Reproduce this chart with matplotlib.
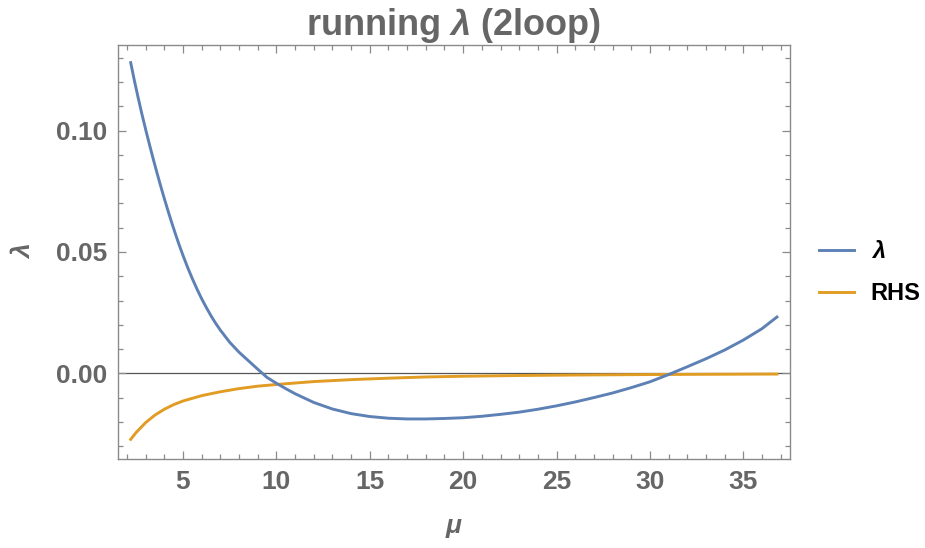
import matplotlib
matplotlib.use("Agg")
import matplotlib.pyplot as plt
from matplotlib.ticker import MultipleLocator

# Running quartic coupling lambda(mu) at two loops
mu_lam = [2.2, 2.4, 2.6, 2.8, 3.0, 3.2, 3.4, 3.6, 3.8, 4.0, 4.2, 4.4, 4.6, 4.8,
          5.0, 5.25, 5.5, 5.75, 6.0, 6.25, 6.5, 6.75, 7.0, 7.5, 8.0, 8.5, 9.0,
          9.5, 10.0, 10.5, 11.0, 12.0, 13.0, 14.0, 15.0, 16.0, 17.0, 18.0, 19.0,
          20.0, 21.0, 22.0, 23.0, 24.0, 25.0, 26.0, 27.0, 28.0, 29.0, 30.0,
          31.0, 32.0, 33.0, 34.0, 35.0, 36.0, 36.8]
lam = [0.1280, 0.1205, 0.1135, 0.1068, 0.1005, 0.0944, 0.0885, 0.0828, 0.0773,
       0.0720, 0.0669, 0.0620, 0.0573, 0.0528, 0.0486, 0.0436, 0.0390, 0.0347,
       0.0307, 0.0271, 0.0237, 0.0206, 0.0178, 0.0128, 0.0087, 0.0052, 0.0017,
       -0.0017, -0.0041, -0.0063, -0.0084, -0.0120, -0.0147, -0.0166, -0.0178,
       -0.0185, -0.0188, -0.0188, -0.0186, -0.0183, -0.0177, -0.0169, -0.0160,
       -0.0148, -0.0134, -0.0118, -0.0100, -0.0081, -0.0059, -0.0035, -0.0005,
       0.0027, 0.0060, 0.0096, 0.0137, 0.0184, 0.0232]

# Right-hand side of the condition
mu_rhs = [2.2, 2.5, 3.0, 3.5, 4.0, 4.5, 5.0, 6.0, 7.0, 8.0, 9.0, 10.0, 12.0,
          14.0, 16.0, 18.0, 20.0, 23.0, 26.0, 30.0, 33.0, 36.8]
rhs = [-0.0272, -0.0243, -0.0203, -0.0172, -0.0148, -0.0129, -0.0114, -0.0092,
       -0.0076, -0.0063, -0.0053, -0.0046, -0.0034, -0.0026, -0.0020, -0.0015,
       -0.0012, -0.0009, -0.0007, -0.0005, -0.0004, -0.0003]

x_ticks = [5, 10, 15, 20, 25, 30, 35]
y_ticks = [0.00, 0.05, 0.10]
y_tick_labels = ["0.00", "0.05", "0.10"]

BLUE = "#5E81B5"
ORANGE = "#E19C24"
LABEL_GRAY = "#666666"
FRAME_GRAY = "#8a8a8a"

plt.rcParams["font.family"] = ["Liberation Sans", "DejaVu Sans"]
plt.rcParams["mathtext.fontset"] = "custom"
plt.rcParams["mathtext.rm"] = "Liberation Sans"
plt.rcParams["mathtext.bf"] = "Liberation Sans:bold"
plt.rcParams["mathtext.bfit"] = "Liberation Sans:bold:italic"

fig = plt.figure(figsize=(9.25, 5.48), dpi=100)
ax = fig.add_axes([118 / 925, 1 - 459 / 548, (790 - 118) / 925, (459 - 44.7) / 548])

ax.axhline(0, color="#555555", lw=0.9, zorder=1)
ax.plot(mu_lam, lam, color=BLUE, lw=2.1, label="$\\mathbfit{\\lambda}$", zorder=3)
ax.plot(mu_rhs, rhs, color=ORANGE, lw=2.1, label="RHS", zorder=2)

ax.set_xlim(1.52, 37.5)
ax.set_ylim(-0.0353, 0.1354)

ax.set_xticks(x_ticks)
ax.set_xticklabels([str(t) for t in x_ticks])
ax.set_yticks(y_ticks)
ax.set_yticklabels(y_tick_labels)
ax.xaxis.set_minor_locator(MultipleLocator(1))
ax.yaxis.set_minor_locator(MultipleLocator(0.01))

for spine in ax.spines.values():
    spine.set_color(FRAME_GRAY)
    spine.set_linewidth(1.0)

ax.tick_params(which="both", direction="in", top=True, right=True,
               color=FRAME_GRAY, width=0.9)
ax.tick_params(which="major", length=6)
ax.tick_params(which="minor", length=3.5)
ax.tick_params(which="major", labelsize=19, labelcolor=LABEL_GRAY, pad=8)
for lbl in ax.get_xticklabels() + ax.get_yticklabels():
    lbl.set_fontweight("bold")

ax.set_title("running $\\mathbfit{\\lambda}$ (2loop)", fontsize=26, fontweight="bold",
             color=LABEL_GRAY, pad=5)
ax.set_xlabel("μ", fontsize=19, fontweight="bold", style="italic",
              color=LABEL_GRAY, labelpad=14)
ax.set_ylabel("λ", fontsize=19, fontweight="bold", style="italic",
              color=LABEL_GRAY, labelpad=14)

leg = ax.legend(loc="center left", bbox_to_anchor=(1.043, 0.45), frameon=False,
                borderpad=0, borderaxespad=0,
                handlelength=1.5, handletextpad=0.7, labelspacing=0.8,
                prop={"weight": "bold", "size": 17})

fig.savefig("out.png", dpi=100)
